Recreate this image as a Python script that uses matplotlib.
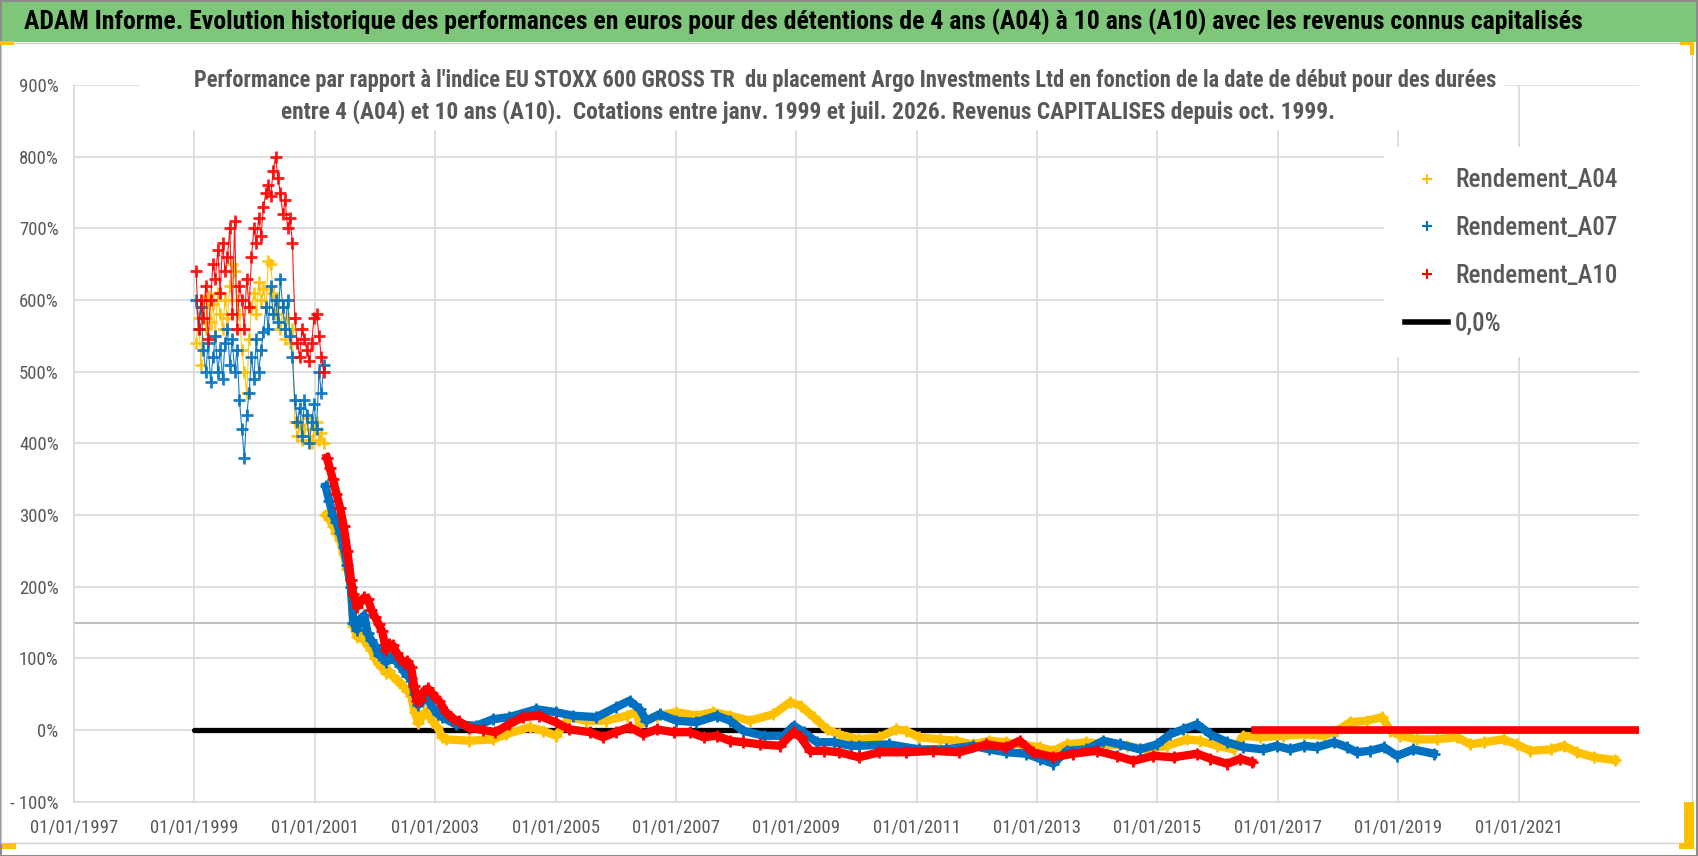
from datetime import datetime, timedelta

import matplotlib
matplotlib.use("Agg")
from matplotlib import pyplot as plt, font_manager
from matplotlib.font_manager import FontProperties
from matplotlib.lines import Line2D
from matplotlib.patches import Rectangle
import matplotlib.ticker as mticker


# ---- data (dates as decimal years, values in %) ----
# early, very scattered part of each series
cloud_dates = [1999.03, 1999.07, 1999.11, 1999.15, 1999.19, 1999.23, 1999.27, 1999.31, 1999.35,
               1999.39, 1999.43, 1999.47, 1999.51, 1999.55, 1999.59, 1999.63, 1999.67, 1999.71,
               1999.75, 1999.79, 1999.83, 1999.87, 1999.91, 1999.95, 1999.99, 2000.03, 2000.07,
               2000.11, 2000.15, 2000.19, 2000.23, 2000.27, 2000.31, 2000.35, 2000.39, 2000.43,
               2000.47, 2000.51, 2000.55, 2000.59, 2000.63, 2000.67, 2000.71, 2000.75, 2000.79,
               2000.83, 2000.87, 2000.91, 2000.95, 2000.99, 2001.03, 2001.07, 2001.11, 2001.15]
a04_cloud = [540, 575, 510, 590, 560, 605, 570, 595, 550, 610, 580, 560, 600, 575, 620, 650, 640, 600,
             580, 530, 500, 470, 545, 590, 610, 580, 625, 600, 615, 590, 655, 650, 610, 580, 600, 560,
             590, 545, 575, 540, 560, 430, 410, 425, 405, 420, 435, 410, 400, 420, 430, 405, 415, 400]
a07_cloud = [600, 560, 590, 530, 500, 540, 485, 520, 550, 500, 530, 490, 540, 560, 510, 545, 500, 530,
             460, 420, 380, 440, 470, 520, 490, 545, 500, 530, 555, 590, 560, 620, 580, 600, 570, 630,
             590, 560, 600, 550, 520, 460, 430, 450, 410, 460, 440, 400, 430, 455, 420, 500, 470, 510]
a10_cloud = [640, 560, 600, 575, 620, 545, 600, 650, 630, 670, 610, 680, 640, 660, 700, 580, 710, 560,
             620, 600, 560, 630, 590, 660, 700, 680, 715, 690, 730, 750, 760, 745, 780, 800, 770, 750,
             720, 740, 700, 715, 680, 575, 540, 520, 560, 545, 530, 515, 540, 575, 580, 550, 520, 500]

# later part, dense bands
a04_dates = [2001.18, 2001.24, 2001.3, 2001.36, 2001.42, 2001.48, 2001.54, 2001.6, 2001.64, 2001.7,
             2001.76, 2001.82, 2001.88, 2001.94, 2002.0, 2002.06, 2002.12, 2002.18, 2002.24, 2002.3,
             2002.36, 2002.42, 2002.48, 2002.54, 2002.6, 2002.66, 2002.72, 2002.78, 2002.84, 2002.9,
             2002.96, 2003.04, 2003.12, 2003.18, 2003.57, 2003.96, 2004.18, 2004.57, 2004.79, 2005.01,
             2005.23, 2005.51, 2005.84, 2006.18, 2006.34, 2006.4, 2006.68, 2007.01, 2007.34, 2007.62,
             2007.9, 2008.23, 2008.62, 2008.9, 2009.07, 2009.29, 2009.51, 2009.71, 2010.04, 2010.38,
             2010.66, 2010.82, 2011.04, 2011.38, 2011.66, 2011.93, 2012.21, 2012.49, 2012.71, 2013.04,
             2013.27, 2013.49, 2013.82, 2014.16, 2014.49, 2014.82, 2015.16, 2015.49, 2015.71, 2015.99,
             2016.27, 2016.43, 2016.71, 2017.09, 2017.43, 2017.76, 2017.98, 2018.2, 2018.48, 2018.73,
             2018.87, 2019.03, 2019.31, 2019.64, 2019.98, 2020.2, 2020.42, 2020.75, 2020.97, 2021.19,
             2021.53, 2021.75, 2021.97, 2022.25, 2022.6]
a04_vals = [300, 295, 285, 275, 265, 245, 225, 200, 145, 130,
            135, 125, 118, 112, 100, 92, 88, 80, 82, 75,
            70, 66, 60, 55, 48, 25, 10, 18, 26, 20,
            12, 4, -10, -13, -15, -13, -6, 4, -1, -8,
            18, 13, 13, 20, 25, 8, 20, 25, 20, 25,
            20, 13, 22, 39, 34, 18, 1, -6, -13, -10,
            1, -1, -10, -13, -15, -20, -15, -17, -20, -24,
            -29, -20, -17, -20, -22, -27, -22, -13, -15, -22,
            -27, -8, -10, -8, -6, -8, -1, 11, 13, 18,
            -1, -8, -13, -13, -10, -20, -17, -13, -20, -29,
            -27, -22, -31, -38, -42]

a07_dates = [2001.18, 2001.24, 2001.3, 2001.36, 2001.42, 2001.48, 2001.54, 2001.6, 2001.64, 2001.7,
             2001.76, 2001.82, 2001.88, 2001.94, 2002.0, 2002.06, 2002.12, 2002.18, 2002.24, 2002.3,
             2002.36, 2002.42, 2002.48, 2002.54, 2002.6, 2002.66, 2002.72, 2002.78, 2002.84, 2002.9,
             2002.96, 2003.05, 2003.12, 2003.34, 2003.68, 2003.96, 2004.23, 2004.68, 2005.0, 2005.29,
             2005.68, 2006.01, 2006.23, 2006.4, 2006.51, 2006.73, 2007.01, 2007.34, 2007.68, 2007.9,
             2008.12, 2008.46, 2008.79, 2008.96, 2009.12, 2009.34, 2009.62, 2009.9, 2010.04, 2010.54,
             2011.04, 2011.49, 2011.93, 2012.21, 2012.49, 2012.82, 2013.04, 2013.27, 2013.49, 2013.82,
             2014.1, 2014.38, 2014.71, 2014.99, 2015.21, 2015.43, 2015.66, 2015.88, 2016.16, 2016.43,
             2016.76, 2016.98, 2017.2, 2017.43, 2017.65, 2017.93, 2018.15, 2018.31, 2018.53, 2018.76,
             2018.98, 2019.25, 2019.59]
a07_vals = [340, 320, 300, 290, 275, 255, 230, 200, 150, 140,
            155, 160, 135, 125, 118, 105, 110, 95, 100, 105,
            95, 90, 82, 76, 72, 50, 35, 40, 45, 40,
            32, 22, 18, 8, 6, 15, 18, 29, 25, 20,
            18, 32, 41, 29, 13, 22, 13, 11, 20, 13,
            -1, -8, -8, 6, -3, -17, -17, -22, -22, -20,
            -27, -27, -22, -27, -31, -33, -40, -47, -29, -27,
            -15, -20, -27, -20, -6, 1, 8, -6, -17, -24,
            -27, -22, -27, -22, -24, -17, -24, -31, -29, -24,
            -36, -27, -33]

a10_dates = [2001.2, 2001.25, 2001.3, 2001.36, 2001.42, 2001.48, 2001.54, 2001.6, 2001.64, 2001.7,
             2001.76, 2001.82, 2001.88, 2001.94, 2002.0, 2002.06, 2002.12, 2002.18, 2002.24, 2002.3,
             2002.36, 2002.42, 2002.48, 2002.54, 2002.6, 2002.65, 2002.7, 2002.76, 2002.82, 2002.88,
             2002.94, 2003.0, 2003.07, 2003.18, 2003.3, 2003.4, 2003.57, 2003.8, 2004.0, 2004.23,
             2004.46, 2004.73, 2005.0, 2005.23, 2005.57, 2005.79, 2006.0, 2006.23, 2006.46, 2006.68,
             2006.96, 2007.23, 2007.46, 2007.68, 2007.9, 2008.12, 2008.4, 2008.73, 2008.96, 2009.07,
             2009.23, 2009.46, 2009.71, 2010.04, 2010.38, 2010.82, 2011.27, 2011.71, 2012.16, 2012.49,
             2012.71, 2012.93, 2013.27, 2013.6, 2013.99, 2014.32, 2014.6, 2014.93, 2015.27, 2015.66,
             2015.88, 2016.16, 2016.38, 2016.57]
a10_vals = [380, 365, 350, 330, 310, 285, 250, 210, 190, 172,
            178, 185, 183, 168, 158, 148, 138, 112, 120, 118,
            108, 100, 94, 96, 88, 62, 40, 42, 55, 58,
            52, 46, 40, 25, 16, 12, 3, 0, -3, 8,
            18, 20, 11, 1, -3, -10, -3, 4, -6, 1,
            -3, -3, -10, -8, -15, -17, -20, -22, -3, -10,
            -29, -29, -31, -38, -31, -31, -29, -31, -20, -24,
            -15, -31, -38, -33, -29, -36, -43, -36, -38, -33,
            -40, -47, -40, -45]
# A10 start dates with no 10-year result yet, shown at 0
a10_zero_dates = [2016.62, 2023.02]
a10_zero_vals = [0, 0]

ref_dates = [1999.0, 2023.0]
ref_vals = [0, 0]

labels = ["Rendement_A04", "Rendement_A07", "Rendement_A10", "0,0%"]
x_tick_years = [1997, 1999, 2001, 2003, 2005, 2007, 2009, 2011, 2013, 2015, 2017, 2019, 2021]
y_ticks = [-100, 0, 100, 200, 300, 400, 500, 600, 700, 800, 900]

title = ("ADAM Informe. Evolution historique des performances en euros pour des détentions "
         "de 4 ans (A04) à 10 ans (A10) avec les revenus connus capitalisés")
subtitle_1 = ("Performance par rapport à l'indice EU STOXX 600 GROSS TR  du placement Argo "
              "Investments Ltd en fonction de la date de début pour des durées")
subtitle_2 = ("entre 4 (A04) et 10 ans (A10).  Cotations entre janv. 1999 et juil. 2026. "
              "Revenus CAPITALISES depuis oct. 1999.")

YELLOW = "#FFC000"
BLUE = "#0070C0"
RED = "#FF0000"
GREY_TXT = "#595959"

W, H = 1698, 856


def to_dates(years):
    out = []
    for y in years:
        base = datetime(int(y), 1, 1)
        out.append(base + timedelta(days=(y - int(y)) * 365.25))
    return out


def pick_font(candidates):
    for name in candidates:
        try:
            font_manager.findfont(FontProperties(family=name), fallback_to_default=False)
            return name, True
        except Exception:
            continue
    return "DejaVu Sans", False


def fit_width(fig, txt, width_px):
    renderer = fig.canvas.get_renderer()
    bb = txt.get_window_extent(renderer)
    txt.set_fontsize(txt.get_fontsize() * width_px / bb.width)


font, narrow = pick_font(["Liberation Sans Narrow", "Roboto Condensed", "Open Sans Condensed"])
k = 1.0 if narrow else 0.82
plt.rcParams["font.family"] = [font, "DejaVu Sans"]

fig = plt.figure(figsize=(W / 100, H / 100), dpi=100)
fig.patch.set_facecolor("white")

# frame, header band and selection handles of the original screenshot
fig.patches.append(Rectangle((0.5 / W, 0.5 / H), (W - 1.5) / W, (H - 1.5) / H, transform=fig.transFigure,
                             fill=False, edgecolor="#8c8c8c", lw=1.5, zorder=0))
fig.patches.append(Rectangle((1 / W, 13 / H), 1691 / W, (H - 56) / H, transform=fig.transFigure,
                             fill=False, edgecolor="#d0d0d0", lw=1, zorder=0))
fig.patches.append(Rectangle((2 / W, 1 - 42 / H), (W - 4) / W, 40 / H, transform=fig.transFigure,
                             facecolor="#7DC67A", edgecolor="none", zorder=1))
for (x0, y0, w, h) in [(0, 41, 14, 4), (1680, 42, 13, 3), (1690, 42, 4, 13),
                       (1684, 802, 10, 46), (1679, 843, 15, 6), (2, 843, 14, 6)]:
    fig.patches.append(Rectangle((x0 / W, 1 - (y0 + h) / H), w / W, h / H, transform=fig.transFigure,
                                 facecolor="#FFC000", edgecolor="none", zorder=2))

ax = fig.add_axes([74 / W, 1 - 801.7 / H, (1639 - 74) / W, (801.7 - 85) / H])

ax.plot(to_dates(ref_dates), ref_vals, color="black", lw=3.8, solid_capstyle="round", zorder=2)

series = [(cloud_dates, a04_cloud, a04_dates, a04_vals, YELLOW),
          (cloud_dates, a07_cloud, a07_dates, a07_vals, BLUE),
          (cloud_dates, a10_cloud, a10_dates, a10_vals, RED)]
for i, (cd, cv, bd, bv, col) in enumerate(series):
    z = 3 + i
    ax.plot(to_dates(cd), cv, ls="-", lw=0.8, alpha=0.9, marker="+", ms=8.5, mew=2.0, color=col, zorder=z)
    ax.plot(to_dates(bd), bv, ls="-", lw=6, marker="+", ms=9, mew=2.0, color=col, zorder=z)
ax.plot(to_dates(a10_zero_dates), a10_zero_vals, ls="-", lw=5.5, color=RED, zorder=6)

ax.axhline(150, color="#bfbfbf", lw=1.5, zorder=1)

ax.set_xlim(datetime(1997, 1, 1), datetime(2023, 1, 1))
ax.set_ylim(-100, 900)
ax.set_xticks([datetime(y, 1, 1) for y in x_tick_years])
ax.set_xticklabels([f"01/01/{y}" for y in x_tick_years])
ax.set_yticks(y_ticks)
ax.yaxis.set_major_formatter(mticker.FuncFormatter(
    lambda v, p: f"- {abs(int(v))}%" if v < 0 else f"{int(v)}%"))
ax.tick_params(axis="both", length=0, colors=GREY_TXT)
ax.tick_params(axis="x", labelsize=13.5 * k, pad=12)
ax.tick_params(axis="y", labelsize=13.5 * k, pad=11)
ax.grid(True, color="#d9d9d9", lw=1.2, zorder=0)
ax.set_axisbelow(True)
for side in ["top", "right"]:
    ax.spines[side].set_visible(False)
for side in ["left", "bottom"]:
    ax.spines[side].set_color("#d9d9d9")
    ax.spines[side].set_linewidth(1.2)

# white box behind the chart title (hides the grid as in the original)
fig.patches.append(Rectangle((140 / W, 1 - 130 / H), 1365 / W, 66 / H, transform=fig.transFigure,
                             facecolor="white", edgecolor="none", zorder=5))

handles = [Line2D([], [], ls="none", marker="+", ms=7, mew=1.5, color=YELLOW),
           Line2D([], [], ls="none", marker="+", ms=7, mew=1.5, color=BLUE),
           Line2D([], [], ls="none", marker="+", ms=7, mew=1.5, color=RED),
           Line2D([], [], color="black", lw=4)]
leg = ax.legend(handles, labels, loc="upper left", bbox_to_anchor=(1384 / W, 1 - 147 / H),
                bbox_transform=fig.transFigure, borderaxespad=0, frameon=True, fancybox=False,
                fontsize=18 * k, labelcolor=GREY_TXT, handlelength=1.7, handletextpad=0.3,
                labelspacing=0.95, borderpad=0.85,
                prop={"family": [font, "DejaVu Sans"], "weight": "medium", "size": 18 * k})
leg.get_frame().set_facecolor("white")
leg.get_frame().set_edgecolor("none")
leg.get_frame().set_alpha(1)
leg.set_zorder(10)

t = fig.text(24 / W, 1 - 22 / H, title, ha="left", va="center", fontsize=20,
             fontweight="bold", color="black", zorder=6)
s1 = fig.text(845 / W, 1 - 80 / H, subtitle_1, ha="center", va="center", fontsize=16,
              fontweight="bold", color=GREY_TXT, zorder=6)
s2 = fig.text(808 / W, 1 - 112 / H, subtitle_2, ha="center", va="center", fontsize=16,
              fontweight="bold", color=GREY_TXT, zorder=6)
fit_width(fig, t, 1560)
fit_width(fig, s1, 1310)
fit_width(fig, s2, 1058)

fig.savefig("out.png", dpi=100)
